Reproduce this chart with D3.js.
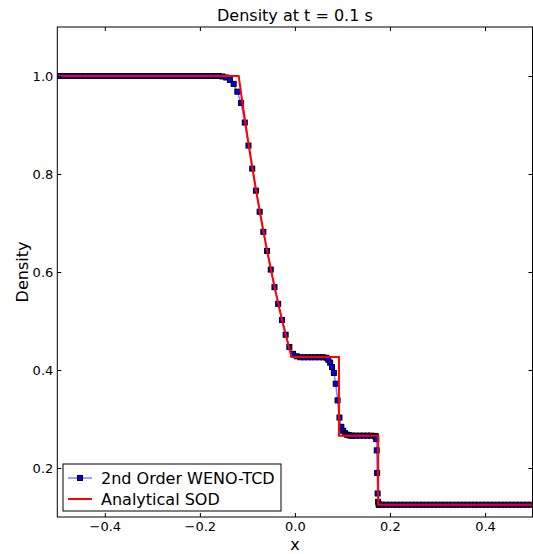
<!DOCTYPE html>
<html>
<head>
<meta charset="utf-8">
<script src="https://cdn.jsdelivr.net/npm/d3@7"></script>
<style>
  body { margin: 0; background: #fff; }
  text { font-family: "DejaVu Sans", sans-serif; fill: #000; }
</style>
</head>
<body>
<div id="main-chart"></div>
<script>
// numerical solution (2nd order WENO-TCD), cell positions and density
var wenoX = [
  -0.4961, -0.4883, -0.4805, -0.4727, -0.4648, -0.4570, -0.4492, -0.4414, -0.4336, -0.4258,
  -0.4180, -0.4102, -0.4023, -0.3945, -0.3867, -0.3789, -0.3711, -0.3633, -0.3555, -0.3477,
  -0.3398, -0.3320, -0.3242, -0.3164, -0.3086, -0.3008, -0.2930, -0.2852, -0.2773, -0.2695,
  -0.2617, -0.2539, -0.2461, -0.2383, -0.2305, -0.2227, -0.2148, -0.2070, -0.1992, -0.1914,
  -0.1836, -0.1758, -0.1680, -0.1602, -0.1523, -0.1445, -0.1367, -0.1289, -0.1211, -0.1133,
  -0.1055, -0.0977, -0.0898, -0.0820, -0.0742, -0.0664, -0.0586, -0.0508, -0.0430, -0.0352,
  -0.0273, -0.0195, -0.0117, -0.0039, 0.0039, 0.0117, 0.0195, 0.0273, 0.0352, 0.0430,
  0.0508, 0.0586, 0.0664, 0.0703, 0.0742, 0.0781, 0.0820, 0.0859, 0.0898, 0.0938,
  0.0977, 0.1016, 0.1055, 0.1094, 0.1133, 0.1172, 0.1211, 0.1289, 0.1367, 0.1445,
  0.1523, 0.1602, 0.1680, 0.1693, 0.1702, 0.1712, 0.1722, 0.1731, 0.1741, 0.1751,
  0.1761, 0.1770, 0.1780, 0.1836, 0.1914, 0.1992, 0.2070, 0.2148, 0.2227, 0.2305,
  0.2383, 0.2461, 0.2539, 0.2617, 0.2695, 0.2773, 0.2852, 0.2930, 0.3008, 0.3086,
  0.3164, 0.3242, 0.3320, 0.3398, 0.3477, 0.3555, 0.3633, 0.3711, 0.3789, 0.3867,
  0.3945, 0.4023, 0.4102, 0.4180, 0.4258, 0.4336, 0.4414, 0.4492, 0.4570, 0.4648,
  0.4727, 0.4805, 0.4883, 0.4961
];
var wenoRho = [
  1.000, 1.000, 1.000, 1.000, 1.000, 1.000, 1.000, 1.000, 1.000, 1.000,
  1.000, 1.000, 1.000, 1.000, 1.000, 1.000, 1.000, 1.000, 1.000, 1.000,
  1.000, 1.000, 1.000, 1.000, 1.000, 1.000, 1.000, 1.000, 1.000, 1.000,
  1.000, 1.000, 1.000, 1.000, 1.000, 1.000, 1.000, 1.000, 1.000, 1.000,
  1.000, 1.000, 1.000, 1.000, 0.999, 0.997, 0.992, 0.984, 0.968, 0.945,
  0.905, 0.858, 0.811, 0.766, 0.723, 0.682, 0.643, 0.605, 0.569, 0.535,
  0.502, 0.472, 0.447, 0.433, 0.428, 0.426, 0.426, 0.426, 0.426, 0.426,
  0.426, 0.426, 0.425, 0.421, 0.415, 0.406, 0.394, 0.372, 0.338, 0.303,
  0.284, 0.276, 0.271, 0.268, 0.267, 0.266, 0.266, 0.266, 0.266, 0.266,
  0.266, 0.266, 0.2655, 0.265, 0.264, 0.259, 0.236, 0.190, 0.148, 0.131,
  0.126, 0.1252, 0.125, 0.125, 0.125, 0.125, 0.125, 0.125, 0.125, 0.125,
  0.125, 0.125, 0.125, 0.125, 0.125, 0.125, 0.125, 0.125, 0.125, 0.125,
  0.125, 0.125, 0.125, 0.125, 0.125, 0.125, 0.125, 0.125, 0.125, 0.125,
  0.125, 0.125, 0.125, 0.125, 0.125, 0.125, 0.125, 0.125, 0.125, 0.125,
  0.125, 0.125, 0.125, 0.125
];

// analytical Sod solution
var sodX = [-0.5, -0.1183, -0.11, -0.10, -0.09, -0.08, -0.07, -0.06, -0.05, -0.04,
  -0.03, -0.02, -0.01, -0.0070, 0.0927, 0.0927, 0.1752, 0.1752, 0.5];
var sodRho = [1.0, 1.0, 0.9428, 0.8774, 0.8158, 0.7577, 0.7030, 0.6514, 0.6030, 0.5574,
  0.5146, 0.4745, 0.4370, 0.4263, 0.4263, 0.2656, 0.2656, 0.125, 0.125];

var xTicks = [-0.4, -0.2, 0.0, 0.2, 0.4];
var yTicks = [0.2, 0.4, 0.6, 0.8, 1.0];
var seriesNames = ["2nd Order WENO-TCD", "Analytical SOD"];
var titleText = "Density at t = 0.1 s";

var width = 533, height = 554;
var mLeft = 57.3, mRight = 532.5, mTop = 27, mBottom = 517;

var svg = d3.select("#main-chart")
  .append("svg")
  .attr("width", width)
  .attr("height", height);

var x = d3.scaleLinear().domain([-0.5, 0.5]).range([mLeft, mRight]);
var y = d3.scaleLinear().domain([0.1, 1.1]).range([mBottom, mTop]);

svg.append("clipPath").attr("id", "plot-clip")
  .append("rect")
  .attr("x", mLeft).attr("y", mTop)
  .attr("width", mRight - mLeft).attr("height", mBottom - mTop);

var plot = svg.append("g").attr("clip-path", "url(#plot-clip)");

var weno = wenoX.map(function(d, i) { return [d, wenoRho[i]]; });
var sod = sodX.map(function(d, i) { return [d, sodRho[i]]; });

var line = d3.line()
  .x(function(d) { return x(d[0]); })
  .y(function(d) { return y(d[1]); });

// numerical line + square markers
plot.append("path")
  .attr("d", line(weno))
  .attr("fill", "none")
  .attr("stroke", "blue")
  .attr("stroke-opacity", 0.5)
  .attr("stroke-width", 1.5);

var ms = 5;
plot.append("g")
  .selectAll("rect")
  .data(weno)
  .enter()
  .append("rect")
  .attr("x", function(d) { return x(d[0]) - ms / 2; })
  .attr("y", function(d) { return y(d[1]) - ms / 2; })
  .attr("width", ms)
  .attr("height", ms)
  .attr("fill", "blue")
  .attr("stroke", "#000")
  .attr("stroke-width", 1);

// analytical solution
plot.append("path")
  .attr("d", line(sod))
  .attr("fill", "none")
  .attr("stroke", "red")
  .attr("stroke-width", 2);

// axes, ticks pointing inward on all four sides
var fmt = d3.format(".1f");

svg.append("g")
  .attr("transform", "translate(0," + mBottom + ")")
  .call(d3.axisBottom(x).tickValues(xTicks).tickSize(-4).tickPadding(5).tickFormat(fmt));
svg.append("g")
  .attr("transform", "translate(0," + mTop + ")")
  .call(d3.axisTop(x).tickValues(xTicks).tickSize(-4).tickFormat(""));
svg.append("g")
  .attr("transform", "translate(" + mLeft + ",0)")
  .call(d3.axisLeft(y).tickValues(yTicks).tickSize(-4).tickPadding(4).tickFormat(fmt));
svg.append("g")
  .attr("transform", "translate(" + mRight + ",0)")
  .call(d3.axisRight(y).tickValues(yTicks).tickSize(-4).tickFormat(""));

svg.selectAll(".domain").remove();
svg.selectAll(".tick line").attr("stroke", "#000").attr("stroke-width", 1);
svg.selectAll(".tick text")
  .style("font-family", "'DejaVu Sans', sans-serif")
  .style("font-size", "13px")
  .attr("fill", "#000");

svg.append("rect")
  .attr("x", mLeft).attr("y", mTop)
  .attr("width", mRight - mLeft).attr("height", mBottom - mTop)
  .attr("fill", "none")
  .attr("stroke", "#000")
  .attr("stroke-width", 1);

// title and labels
svg.append("text")
  .attr("x", (mLeft + mRight) / 2)
  .attr("y", 21)
  .attr("text-anchor", "middle")
  .style("font-size", "16px")
  .text(titleText);

svg.append("text")
  .attr("x", (mLeft + mRight) / 2)
  .attr("y", 550)
  .attr("text-anchor", "middle")
  .style("font-size", "16px")
  .text("x");

svg.append("text")
  .attr("transform", "translate(28," + (mTop + mBottom) / 2 + ") rotate(-90)")
  .attr("text-anchor", "middle")
  .style("font-size", "16px")
  .text("Density");

// legend
var legend = svg.append("g").attr("transform", "translate(63,464)");
legend.append("rect")
  .attr("width", 218).attr("height", 47)
  .attr("fill", "#fff")
  .attr("stroke", "#000")
  .attr("stroke-width", 1);

var row1 = legend.append("g").attr("transform", "translate(0,14)");
row1.append("line")
  .attr("x1", 5).attr("x2", 29)
  .attr("stroke", "blue").attr("stroke-opacity", 0.5).attr("stroke-width", 1.5);
row1.append("rect")
  .attr("x", 17 - ms / 2).attr("y", -ms / 2)
  .attr("width", ms).attr("height", ms)
  .attr("fill", "blue").attr("stroke", "#000").attr("stroke-width", 1);
row1.append("text")
  .attr("x", 38).attr("y", 5.5)
  .style("font-size", "16px")
  .text(seriesNames[0]);

var row2 = legend.append("g").attr("transform", "translate(0,35)");
row2.append("line")
  .attr("x1", 5).attr("x2", 29)
  .attr("stroke", "red").attr("stroke-width", 2);
row2.append("text")
  .attr("x", 38).attr("y", 5.5)
  .style("font-size", "16px")
  .text(seriesNames[1]);
</script>
</body>
</html>
